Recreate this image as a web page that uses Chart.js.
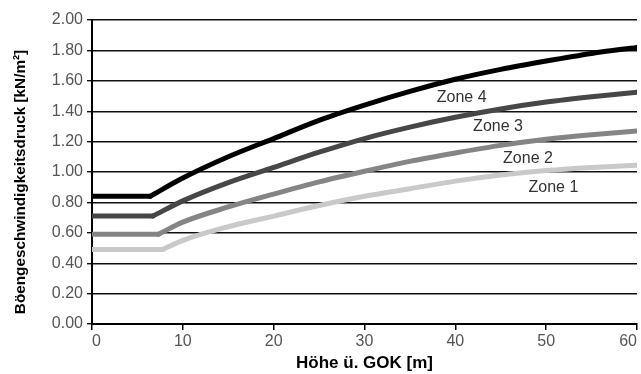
<!DOCTYPE html>
<html>
<head>
<meta charset="utf-8">
<script src="https://cdn.jsdelivr.net/npm/chart.js@4/dist/chart.umd.min.js"></script>
<style>
html,body{margin:0;padding:0;background:#fff;}
#wrap{width:641px;height:374px;position:relative;}
</style>
</head>
<body>
<div id="wrap"><canvas id="c" width="641" height="374"></canvas></div>
<script>
// Heights (m) and gust pressure (kN/m²) per zone
// (second entry = height where the constant part ends)
const heightsZone4 = [0, 6.4, 10, 15, 20, 25, 30, 35, 40, 45, 50, 55, 60];
const valuesZone4  = [0.84, 0.84, 0.96, 1.10, 1.22, 1.34, 1.44, 1.53, 1.61, 1.675, 1.73, 1.78, 1.82];
const heightsZone3 = [0, 6.7, 10, 15, 20, 25, 30, 35, 40, 45, 50, 55, 60];
const valuesZone3  = [0.71, 0.71, 0.81, 0.93, 1.03, 1.13, 1.22, 1.295, 1.36, 1.415, 1.46, 1.495, 1.525];
const heightsZone2 = [0, 7.3, 10, 15, 20, 25, 30, 35, 40, 45, 50, 55, 60];
const valuesZone2  = [0.59, 0.59, 0.67, 0.77, 0.855, 0.935, 1.005, 1.07, 1.125, 1.175, 1.215, 1.245, 1.27];
const heightsZone1 = [0, 7.8, 10, 15, 20, 25, 30, 35, 40, 45, 50, 55, 60];
const valuesZone1  = [0.49, 0.49, 0.55, 0.64, 0.71, 0.78, 0.84, 0.89, 0.94, 0.98, 1.01, 1.03, 1.045];

const zoneNames = ['Zone 4', 'Zone 3', 'Zone 2', 'Zone 1'];
const zoneColors = ['#000000', '#474747', '#858585', '#c9c9c9'];
// label anchors in data units (height, pressure)
const labelAnchorX = [40.7, 44.7, 48.0, 50.8];
const labelAnchorY = [1.49, 1.30, 1.09, 0.895];

const xTicks = [0, 10, 20, 30, 40, 50, 60];
const yTicks = [0, 0.2, 0.4, 0.6, 0.8, 1.0, 1.2, 1.4, 1.6, 1.8, 2.0];
const yTitle = 'Böengeschwindigkeitsdruck [kN/m²]';
const xTitle = 'Höhe ü. GOK [m]';

const FONT = 'Arial, "Liberation Sans", sans-serif';
const allH = [heightsZone4, heightsZone3, heightsZone2, heightsZone1];
const allV = [valuesZone4, valuesZone3, valuesZone2, valuesZone1];

const datasets = [];
allH.forEach((hs, i) => {
  const pts = hs.map((h, j) => ({x: h, y: allV[i][j]}));
  const common = {
    borderColor: zoneColors[i],
    backgroundColor: zoneColors[i],
    borderWidth: 5,
    pointRadius: 0,
    borderCapStyle: 'round',
    borderJoinStyle: 'round',
    fill: false
  };
  // constant part
  datasets.push(Object.assign({label: zoneNames[i] + ' (konstant)', data: pts.slice(0, 2), tension: 0}, common));
  // rising part
  datasets.push(Object.assign({label: zoneNames[i], data: pts.slice(1), cubicInterpolationMode: 'monotone'}, common));
});

const extras = {
  id: 'extras',
  afterDatasetsDraw(chart) {
    const {ctx, scales: {x, y}} = chart;
    ctx.save();
    ctx.font = '16px ' + FONT;
    ctx.fillStyle = '#333';
    ctx.textAlign = 'center';
    ctx.textBaseline = 'middle';
    zoneNames.forEach((n, i) => {
      ctx.fillText(n, x.getPixelForValue(labelAnchorX[i]), y.getPixelForValue(labelAnchorY[i]));
    });
    ctx.restore();
  },
  afterDraw(chart) {
    const {ctx} = chart;
    ctx.save();
    ctx.font = 'bold 15.3px ' + FONT;
    ctx.fillStyle = '#000';
    ctx.textAlign = 'center';
    ctx.textBaseline = 'middle';
    ctx.translate(21, 182);
    ctx.rotate(-Math.PI / 2);
    ctx.fillText(yTitle, 0, 0);
    ctx.restore();
  }
};

new Chart(document.getElementById('c'), {
  type: 'line',
  data: { datasets },
  options: {
    responsive: false,
    animation: false,
    layout: { padding: { top: 20, right: 4, left: 0, bottom: 0 } },
    plugins: { legend: { display: false }, tooltip: { enabled: false } },
    scales: {
      x: {
        type: 'linear',
        min: 0, max: 60,
        afterBuildTicks(s) { s.ticks = xTicks.map(v => ({value: v})); },
        afterFit(s) { s.height = 50; s.paddingRight = 0; s.paddingLeft = 0; },
        grid: { drawOnChartArea: false, drawTicks: true, tickLength: 6, color: '#000', lineWidth: 1.5 },
        border: { display: true, color: '#000', width: 2 },
        ticks: {
          color: '#555', padding: 2, align: 'inner',
          font: { family: FONT, size: 16 },
          maxRotation: 0
        },
        title: {
          display: true, text: xTitle, color: '#000',
          font: { family: FONT, size: 17, weight: 'bold' },
          padding: { top: 0, bottom: 0 }
        }
      },
      y: {
        min: 0, max: 2,
        afterBuildTicks(s) { s.ticks = yTicks.map(v => ({value: v})); },
        afterFit(s) { s.width = 92; },
        grid: { color: '#111', lineWidth: 1.4, tickLength: 5, drawTicks: true },
        border: { display: true, color: '#000', width: 2 },
        ticks: {
          color: '#555', padding: 4,
          font: { family: FONT, size: 16 },
          callback: v => Number(v).toFixed(2)
        },
        title: { display: false }
      }
    }
  },
  plugins: [extras]
});
</script>
</body>
</html>
